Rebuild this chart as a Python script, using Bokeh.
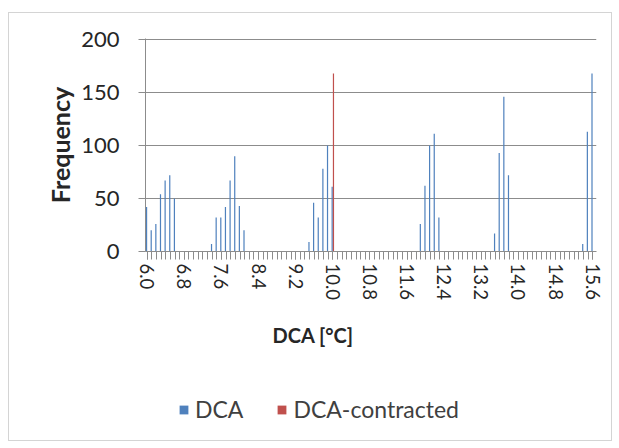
from bokeh.plotting import figure
from bokeh.layouts import column
from bokeh.models import (FixedTicker, NumeralTickFormatter, Title, Legend, LegendItem,
                          ColumnDataSource, Range1d)
from bokeh.transform import dodge
from bokeh.embed import file_html
from bokeh.resources import INLINE

# DCA bins [°C] (category axis)
dca_bins = [6.0, 6.1, 6.2, 6.3, 6.4, 6.5, 6.6, 6.7, 6.8, 6.9,
            7.0, 7.1, 7.2, 7.3, 7.4, 7.5, 7.6, 7.7, 7.8, 7.9,
            8.0, 8.1, 8.2, 8.3, 8.4, 8.5, 8.6, 8.7, 8.8, 8.9,
            9.0, 9.1, 9.2, 9.3, 9.4, 9.5, 9.6, 9.7, 9.8, 9.9,
            10.0, 10.1, 10.2, 10.3, 10.4, 10.5, 10.6, 10.7, 10.8, 10.9,
            11.0, 11.1, 11.2, 11.3, 11.4, 11.5, 11.6, 11.7, 11.8, 11.9,
            12.0, 12.1, 12.2, 12.3, 12.4, 12.5, 12.6, 12.7, 12.8, 12.9,
            13.0, 13.1, 13.2, 13.3, 13.4, 13.5, 13.6, 13.7, 13.8, 13.9,
            14.0, 14.1, 14.2, 14.3, 14.4, 14.5, 14.6, 14.7, 14.8, 14.9,
            15.0, 15.1, 15.2, 15.3, 15.4, 15.5, 15.6]

# Frequency, series "DCA"
dca_freq = [42, 20, 26, 54, 67, 72, 50, 0, 0, 0,
            0, 0, 0, 0, 7, 32, 32, 42, 67, 90,
            43, 20, 0, 0, 0, 0, 0, 0, 0, 0,
            0, 0, 0, 0, 0, 9, 46, 32, 78, 100,
            61, 0, 0, 0, 0, 0, 0, 0, 0, 0,
            0, 0, 0, 0, 0, 0, 0, 0, 0, 26,
            62, 100, 111, 32, 0, 0, 0, 0, 0, 0,
            0, 0, 0, 0, 0, 17, 93, 146, 72, 0,
            0, 0, 0, 0, 0, 0, 0, 0, 0, 0,
            0, 0, 0, 0, 7, 113, 168]

# Frequency, series "DCA-contracted"
dca_contracted_freq = [0] * 40 + [168] + [0] * 56

# tick labels
x_tick_values = [6.0, 6.8, 7.6, 8.4, 9.2, 10.0, 10.8, 11.6, 12.4, 13.2, 14.0, 14.8, 15.6]
y_tick_values = [0, 50, 100, 150, 200]

series_names = ["DCA", "DCA-contracted"]
series_colors = ["#4F81BD", "#C0504D"]

FONT = "Lato"
TEXT = "#262626"
GRID = "#8c8c8c"

src = ColumnDataSource(dict(x=dca_bins, a=dca_freq, b=dca_contracted_freq))

p = figure(width=602, height=367, output_backend="svg", toolbar_location=None,
           x_range=Range1d(5.963, 15.683), y_range=Range1d(0, 201),
           min_border_left=136, min_border_right=15, min_border_top=25,
           min_border_bottom=129)
p.outline_line_color = None
p.background_fill_color = "white"
p.border_fill_color = "white"

r1 = p.vbar(x=dodge("x", -0.014, range=p.x_range), top="a", width=0.026, source=src,
            fill_color=series_colors[0], line_color=None)
r2 = p.vbar(x=dodge("x", 0.014, range=p.x_range), top="b", width=0.026, source=src,
            fill_color=series_colors[1], line_color=None)

# y axis
yax = p.yaxis[0]
yax.ticker = FixedTicker(ticks=y_tick_values)
yax.axis_line_color = GRID
yax.major_tick_line_color = GRID
yax.major_tick_out = 7
yax.major_tick_in = 0
yax.minor_tick_line_color = None
yax.major_label_standoff = 19
yax.major_label_text_font = FONT
yax.major_label_text_font_size = "22px"
yax.major_label_text_color = TEXT
yax.axis_label = "Frequency"
yax.axis_label_text_font = FONT
yax.axis_label_text_font_size = "25px"
yax.axis_label_text_font_style = "bold"
yax.axis_label_text_color = TEXT
yax.axis_label_standoff = 3

# x axis
xax = p.xaxis[0]
xax.ticker = FixedTicker(ticks=x_tick_values, minor_ticks=dca_bins)
xax.formatter = NumeralTickFormatter(format="0.0")
xax.axis_line_color = GRID
xax.major_tick_line_color = GRID
xax.minor_tick_line_color = GRID
xax.major_tick_out = 8
xax.major_tick_in = 0
xax.minor_tick_out = 8
xax.minor_tick_in = 0
xax.major_label_orientation = "vertical"
xax.major_label_standoff = 4
xax.major_label_text_font = FONT
xax.major_label_text_font_size = "18.5px"
xax.major_label_text_color = TEXT

p.xgrid.grid_line_color = None
p.ygrid.ticker = FixedTicker(ticks=y_tick_values)
p.ygrid.grid_line_color = GRID
p.ygrid.grid_line_width = 1

p.add_layout(Title(text="DCA [°C]", align="left", offset=127, standoff=34,
                   text_font=FONT, text_font_size="20px", text_font_style="bold",
                   text_color=TEXT), "below")

# legend strip below the chart (hidden proxy renderers only supply the swatches)
pl = figure(width=602, height=60, output_backend="svg", toolbar_location=None,
            x_range=Range1d(0, 1), y_range=Range1d(0, 1),
            x_axis_location=None, y_axis_location=None, min_border=0)
pl.outline_line_color = None
pl.xgrid.grid_line_color = None
pl.ygrid.grid_line_color = None
l1 = pl.vbar(x="x", top="a", width=0.026, source=src, fill_color=series_colors[0],
             line_color=None, visible=False)
l2 = pl.vbar(x="x", top="b", width=0.026, source=src, fill_color=series_colors[1],
             line_color=None, visible=False)
legend = Legend(items=[LegendItem(label=series_names[0], renderers=[l1]),
                       LegendItem(label=series_names[1], renderers=[l2])],
                orientation="horizontal", location=(33, 17),
                padding=0, margin=0, spacing=33, label_standoff=6,
                glyph_width=11, glyph_height=11,
                border_line_color=None, background_fill_alpha=0,
                inactive_fill_alpha=0,
                label_text_font=FONT, label_text_font_size="23px",
                label_text_color="#404040")
pl.add_layout(legend, "center")

layout = column(p, pl, spacing=0)
layout.styles = {"border": "1px solid #d4d4d4", "margin-top": "12px", "margin-left": "8px"}

open("out.html", "w").write(file_html(layout, INLINE))
